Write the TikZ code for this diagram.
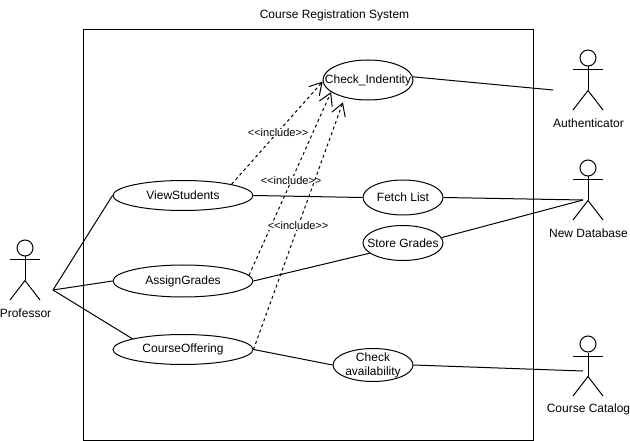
\documentclass[tikz,border=0pt]{standalone}
\usepackage{fontspec}
\setmainfont{Liberation Sans}
\usetikzlibrary{arrows.meta,shapes.geometric}

\begin{document}
\begin{tikzpicture}[x=1pt,y=-1pt,line width=1pt,font=\fontsize{12}{14}\selectfont]
    \tikzstyle{usecase}=[draw,ellipse,inner sep=0pt,minimum width=80pt]
    \tikzstyle{wide}=[usecase,minimum width=140pt,minimum height=30pt]
    \tikzstyle{include}=[dashed,dash pattern=on 3pt off 3pt,-{Straight Barb[length=12pt,width=14pt]}]
    \tikzstyle{tag}=[fill=white,inner sep=0pt,font=\fontsize{11}{13}\selectfont]
    \useasboundingbox (0,0) rectangle (630,441);

    \node (title) at (334.5,15) {Course Registration System};
    \node[draw,minimum width=450pt,minimum height=410pt,inner sep=0pt] (system) at (308,235) {};

    \node[usecase,minimum width=90pt,minimum height=40pt,label=center:{Check\_Indentity}] (check) at (368,80) {};
    \node[wide,label=center:{ViewStudents}] (view) at (183,195.5) {};
    \node[wide,minimum height=32pt,label=center:{AssignGrades}] (assign) at (183,281) {};
    \node[wide,label=center:{CourseOffering}] (offering) at (183,349.5) {};
    \node[usecase,minimum height=35pt,label=center:{Fetch List}] (fetch) at (403,197.5) {};
    \node[usecase,minimum height=35pt,label=center:{Store Grades}] (store) at (403,243) {};
    \node[usecase,minimum height=33pt,label={[align=center]center:{Check\\availability}}] (avail) at (373,365) {};

    % actors
    \foreach \name/\x/\y/\txt in {prof/25/248/Professor,auth/588/58/Authenticator,data/588/168/New Database,catalog/588/344/Course Catalog}{
        \node[draw,circle,minimum size=16pt,inner sep=0pt] (\name) at (\x,\y) {};
        \draw (\name.south) -- ++(0,24) coordinate (\name hip);
        \draw (\x-15,\y+12) -- (\x+15,\y+12);
        \draw (\x-15,\y+52) -- (\name hip) -- (\x+15,\y+52);
        \node (\name label) at (\x+0.5,\y+65.5) {\txt};
    }

    \coordinate (profhand) at (53,290);
    \coordinate (authhand) at (553,90);
    \coordinate (datahand) at (583,200);
    \coordinate (cataloghand) at (583,371);

    \draw (profhand) -- (view.west);
    \draw (profhand) -- (assign.west);
    \draw (profhand) -- (offering.168);
    \draw (check.4) -- (authhand);
    \draw (view.east) -- (fetch.west);
    \draw (fetch.east) -- (datahand);
    \draw (store.8) -- (datahand);
    \draw (assign.east) -- (store.197);
    \draw (offering.east) -- (avail.west);
    \draw (avail.east) -- (cataloghand);

    \draw[include] (view.13) -- node[tag,xshift=1pt] {<{}<include>{}>} (check.182);
    \draw[include] (assign.5) -- node[tag,xshift=1pt,yshift=3.5pt] {<{}<include>{}>} (check.198);
    \draw[include,shorten >=5pt] (offering.east) -- node[tag,xshift=-1pt,yshift=-2pt] {<{}<include>{}>} (check.217);
\end{tikzpicture}
\end{document}
